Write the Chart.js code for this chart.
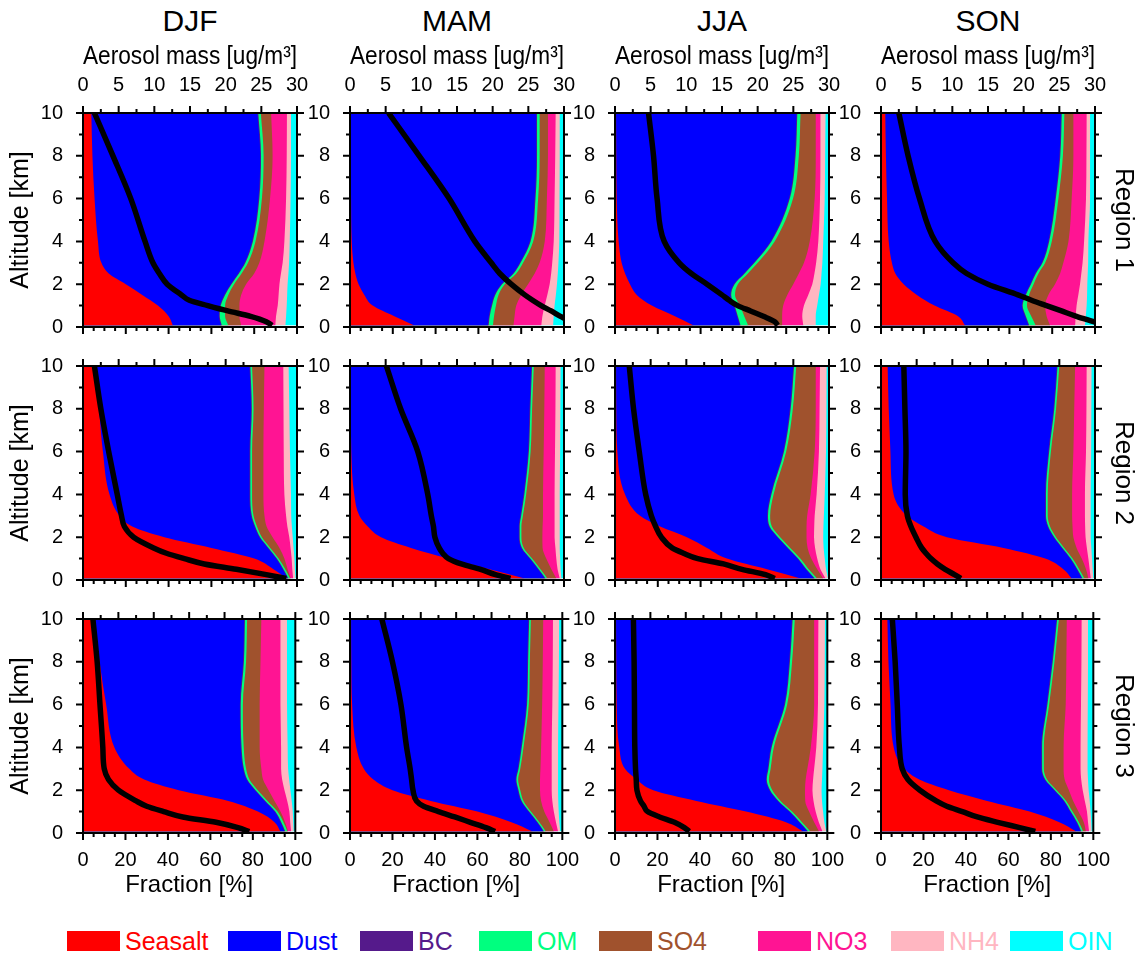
<!DOCTYPE html>
<html>
<head>
<meta charset="utf-8">
<script src="https://cdn.jsdelivr.net/npm/chart.js@4.4.1/dist/chart.umd.min.js"></script>
<style>
  body { margin: 0; background: #fff; }
  #page { position: relative; width: 1145px; height: 959px; overflow: hidden;
          font-family: 'Liberation Sans', Arial, sans-serif; color: #000; }
  canvas { position: absolute; }
  .season { position: absolute; width: 160px; text-align: center; font-size: 30px; line-height: 30px; }
  .region { position: absolute; font-size: 26px; line-height: 26px; white-space: nowrap;
            transform: translate(-50%, -50%) rotate(90deg); }
  .key { position: absolute; width: 53px; height: 20px; }
  .keytext { position: absolute; font-size: 25px; line-height: 25px; white-space: nowrap; }
</style>
</head>
<body>
<div id="page"></div>
<script>
const seasons = ['DJF', 'MAM', 'JJA', 'SON'];
const regions = ['Region 1', 'Region 2', 'Region 3'];
const species = ['Seasalt', 'Dust', 'BC', 'OM', 'SO4', 'NO3', 'NH4', 'OIN'];
const speciesColors = ['#ff0000', '#0000ff', '#551a8b', '#00ff7f', '#a0522d', '#ff1493', '#ffb6c1', '#00ffff'];

// levels [km]: composition profiles and total mass profiles
const altitude = [0.07, 0.5, 1, 1.5, 2, 2.5, 3, 4, 6, 8, 10];
const massAltitude = [0.07, 0.25, 0.5, 0.75, 1, 1.25, 1.5, 2, 2.5, 3, 4, 6, 8, 10];

const altitudeTicks = [0, 2, 4, 6, 8, 10];
const fractionTicks = [0, 20, 40, 60, 80, 100];
const massTicks = [0, 5, 10, 15, 20, 25, 30];

// mass fraction [%] per species; one row per panel:
// Region 1 DJF, MAM, JJA, SON, Region 2 DJF ... SON, Region 3 DJF ... SON
const seasalt = [
  [42, 40, 35, 27.7, 20, 12, 8.6, 7, 5.4, 4.4, 3.9],
  [30, 20.7, 10.6, 6.7, 4, 2.5, 1.6, 0.8, 0.5, 0.4, 0.3],
  [36.7, 28, 17.2, 10.2, 7, 4.7, 3.1, 1.7, 0.8, 0.6, 0.5],
  [39.3, 36, 25, 16.8, 10.6, 6.7, 5.1, 3.6, 2.8, 2.3, 2],
  [95, 89, 80, 60, 38, 23, 17.1, 12.4, 9.3, 7.5, 5.9],
  [81.6, 65.2, 46, 28.5, 14.5, 8.3, 4.4, 2, 0.6, 0.4, 0.3],
  [86.7, 71, 52.3, 43, 33.6, 21.1, 11.7, 4.7, 1.1, 0.6, 0.5],
  [89.1, 85.2, 76.7, 57.2, 30.8, 19.9, 12.1, 5.9, 4.4, 3.6, 3.1],
  [93, 90.2, 82.4, 68.4, 45.1, 28.8, 21.8, 14.8, 10.9, 7.8, 5.4],
  [86, 76, 60, 38, 20, 11, 6.5, 3, 1, 0.6, 0.5],
  [88.6, 80.5, 61.7, 38.3, 18, 10.2, 4.7, 2, 0.8, 0.6, 0.5],
  [92, 84, 70, 50, 32, 18, 11, 6, 4.5, 3.5, 3]
];
const dust = [
  [22.5, 23.5, 29, 38.3, 49, 60.5, 66.9, 72, 76.6, 78.4, 77.6],
  [34.4, 44.2, 55.4, 60.8, 66.7, 73.6, 77.7, 83.2, 85.8, 86.6, 86.7],
  [21.6, 29, 38.3, 43.7, 48.5, 55.5, 61.7, 71, 80.5, 83.4, 84.3],
  [29.6, 31.3, 40.8, 50.5, 59.1, 65.3, 70, 74.6, 78.5, 81.1, 82.1],
  [0.6, 4.3, 10.2, 26.3, 44.4, 57.1, 61.4, 65.4, 68.5, 71, 71.9],
  [9.4, 22.6, 37.9, 51.5, 64.4, 70.6, 75.2, 79.1, 82.6, 83.5, 84.4],
  [6.3, 18.1, 32.9, 37.5, 42.2, 50.8, 59.4, 68, 77.5, 81.1, 82.8],
  [4.7, 6.2, 11.6, 27.2, 49.8, 57.9, 64.6, 70.8, 73.8, 77, 79],
  [1.9, 2.8, 7.8, 17.1, 35.8, 48.2, 53.6, 59.5, 63, 67.6, 70.5],
  [5, 12, 24, 42.5, 59, 67, 72.5, 77.5, 82, 82.9, 83.5],
  [2, 6.2, 20.3, 38.3, 54.7, 60.9, 67.2, 71.4, 78.9, 81.4, 82.8],
  [2, 8, 19, 36, 49.5, 59, 64.5, 69.5, 73.5, 77, 79.6]
];
const bc = [
  [0.4, 0.4, 0.4, 0.4, 0.4, 0.4, 0.4, 0.4, 0.4, 0.4, 0.4],
  [0.4, 0.4, 0.4, 0.4, 0.4, 0.4, 0.4, 0.4, 0.4, 0.4, 0.4],
  [0.4, 0.4, 0.4, 0.4, 0.4, 0.4, 0.4, 0.4, 0.4, 0.4, 0.4],
  [0.4, 0.4, 0.4, 0.4, 0.4, 0.4, 0.4, 0.4, 0.4, 0.4, 0.4],
  [0.4, 0.4, 0.4, 0.4, 0.4, 0.4, 0.4, 0.4, 0.4, 0.4, 0.4],
  [0.4, 0.4, 0.4, 0.4, 0.4, 0.4, 0.4, 0.4, 0.4, 0.4, 0.4],
  [0.4, 0.4, 0.4, 0.4, 0.4, 0.4, 0.4, 0.4, 0.4, 0.4, 0.4],
  [0.4, 0.4, 0.4, 0.4, 0.4, 0.4, 0.4, 0.4, 0.4, 0.4, 0.4],
  [0.4, 0.4, 0.4, 0.4, 0.4, 0.4, 0.4, 0.4, 0.4, 0.4, 0.4],
  [0.4, 0.4, 0.4, 0.4, 0.4, 0.4, 0.4, 0.4, 0.4, 0.4, 0.4],
  [0.4, 0.4, 0.4, 0.4, 0.4, 0.4, 0.4, 0.4, 0.4, 0.4, 0.4],
  [0.4, 0.4, 0.4, 0.4, 0.4, 0.4, 0.4, 0.4, 0.4, 0.4, 0.4]
];
const om = [
  [3, 2.5, 2, 1.5, 1.2, 1.2, 1.2, 1.2, 1.2, 1.2, 1.2],
  [2, 2, 1.8, 1.5, 1.2, 1.2, 1.2, 1.2, 1.2, 1.2, 1.2],
  [3.5, 3, 2.5, 1.8, 1.5, 1.5, 1.5, 1.5, 1.5, 1.5, 1.5],
  [3, 2.5, 2, 1.5, 1.2, 1.2, 1.2, 1.2, 1.2, 1.2, 1.2],
  [0.8, 0.8, 0.8, 0.8, 0.8, 0.8, 0.8, 0.8, 0.8, 0.8, 0.8],
  [0.8, 0.8, 0.8, 0.8, 0.8, 0.8, 0.8, 0.8, 0.8, 0.8, 0.8],
  [1, 1, 1, 1, 1, 1, 1, 1, 1, 1, 1],
  [0.8, 0.8, 0.8, 0.8, 0.8, 0.8, 0.8, 0.8, 0.8, 0.8, 0.8],
  [1, 1, 1, 1, 1, 1, 1, 1, 1, 1, 1],
  [0.8, 0.8, 0.8, 0.8, 0.8, 0.8, 0.8, 0.8, 0.8, 0.8, 0.8],
  [1, 1, 1, 1, 1, 1, 1, 1, 1, 1, 1],
  [0.8, 0.8, 0.8, 0.8, 0.8, 0.8, 0.8, 0.8, 0.8, 0.8, 0.8]
];
const so4 = [
  [6, 6.7, 6.7, 6, 5.6, 5.9, 5.3, 4.2, 3.8, 4.2, 4.8],
  [9.6, 9.6, 9.5, 10.6, 10.9, 8.6, 7.7, 5.4, 4.1, 3.9, 3.9],
  [15.9, 17.7, 20.2, 24.4, 25.9, 23.8, 21.6, 16.4, 10.1, 7.9, 7.1],
  [6.7, 7.2, 8.5, 9, 10, 10.1, 8.5, 7.8, 6.2, 4.9, 4.2],
  [0.3, 1.1, 2.7, 4.3, 5, 4.5, 5.1, 5.3, 5.3, 4.8, 5.8],
  [4.2, 5.1, 6.6, 8.8, 9.8, 9.9, 9.4, 7.9, 6.1, 5.7, 5.1],
  [2.9, 4, 5.1, 8.1, 12.3, 16.2, 17.3, 17.3, 13.3, 10.7, 9.1],
  [1.9, 3.2, 4.3, 5.8, 8.1, 10.5, 11.4, 11.4, 10.5, 8.5, 7.4],
  [0.3, 0.8, 1.4, 3.3, 5.1, 6.4, 7.2, 7.5, 7.9, 6.8, 6.7],
  [3.8, 4.8, 6.3, 8.3, 9.3, 10.3, 9.5, 8.3, 6.3, 6.1, 5.8],
  [4.1, 5.7, 8, 11.6, 15.4, 17.3, 17.3, 17.4, 12.7, 10.4, 9.1],
  [1.3, 2.3, 2.8, 3.3, 5.8, 8.3, 9.3, 9.3, 7.8, 5.6, 3.7]
];
const no3 = [
  [16, 17.1, 17.9, 17.5, 15.6, 12.5, 10.9, 9.3, 7.5, 6.6, 7.4],
  [13, 13, 13.3, 12.2, 10.1, 7.7, 5.9, 4.2, 3.6, 3.4, 3.6],
  [9.9, 9.4, 9.7, 9.8, 8.9, 7.3, 5.7, 4, 2.5, 2.2, 2.2],
  [11.7, 13.6, 14.7, 14, 11.7, 9.9, 9, 7.3, 6.7, 6.1, 6.2],
  [1.1, 2.2, 3.4, 5.2, 7.8, 9.7, 10.1, 9.8, 9.5, 9.2, 8.8],
  [1.6, 2.9, 4.7, 6, 5.7, 5.6, 5.4, 5.4, 5.3, 5.2, 5.1],
  [1.1, 1.5, 2.8, 3.5, 3.5, 3.6, 3.5, 2.8, 2, 1.8, 2],
  [1.1, 1.7, 3.1, 4.8, 5.7, 5.9, 6, 6, 5.9, 5.7, 5.4],
  [1.4, 2.4, 4.2, 6, 7.5, 9, 9.3, 10.1, 9.8, 9.4, 9],
  [2, 3, 4.5, 5.3, 5.5, 5.5, 5.3, 5, 4.8, 4.7, 4.6],
  [1.6, 2.2, 3.1, 3.9, 3.5, 3.5, 3.2, 2.6, 1.8, 1.9, 2],
  [1.5, 2, 4, 5.5, 6.5, 7.8, 8, 8, 7.2, 7.1, 7]
];
const nh4 = [
  [4.7, 4.7, 4.2, 4, 3.8, 3.5, 3, 2.5, 2.1, 2, 1.9],
  [5.5, 5.3, 4.6, 4, 3.4, 3.1, 2.9, 2.6, 2.3, 2.1, 1.9],
  [5.8, 6.3, 6.2, 5, 3.9, 3.3, 2.9, 2.3, 2.2, 2.2, 2.4],
  [4.6, 4.7, 4.7, 4.1, 3.4, 3, 2.6, 2, 1.9, 1.7, 1.6],
  [1.1, 1.2, 1.3, 1.4, 1.6, 2.1, 2.4, 3.1, 2.9, 2.7, 2.5],
  [0.8, 1.4, 1.8, 2, 2.4, 2.4, 2.4, 2.4, 2.4, 2.3, 2.3],
  [1.1, 2.6, 3.5, 4, 4.3, 4.3, 4.3, 3.8, 3.3, 3.2, 3.1],
  [1.2, 1.4, 1.7, 2.1, 2.4, 2.6, 2.7, 2.7, 2.4, 2.3, 2.3],
  [1.2, 1.4, 1.6, 2.1, 2.8, 3.3, 3.3, 3.1, 3.1, 3.1, 3.1],
  [1, 1.6, 2.3, 2.8, 3, 3, 3, 3, 2.9, 2.9, 2.9],
  [1.8, 2.6, 3.5, 4, 4.3, 4.2, 3.9, 3.2, 3, 3.1, 3.1],
  [1.2, 1.5, 1.7, 2.3, 2.8, 3.2, 3.3, 3.3, 3.2, 3.1, 3]
];
const oin = [
  [5.4, 5.1, 4.8, 4.6, 4.4, 4, 3.7, 3.4, 3, 2.8, 2.8],
  [5.1, 4.8, 4.4, 3.8, 3.3, 2.9, 2.6, 2.2, 2.1, 2, 2],
  [6.2, 6.2, 5.5, 4.7, 3.9, 3.5, 3.1, 2.7, 2, 1.8, 1.6],
  [4.7, 4.3, 3.9, 3.7, 3.6, 3.4, 3.2, 3.1, 2.3, 2.3, 2.3],
  [0.7, 1, 1.2, 1.6, 2, 2.4, 2.7, 2.8, 3.3, 3.6, 3.9],
  [1.2, 1.6, 1.8, 2, 2, 2, 2, 2, 1.8, 1.7, 1.6],
  [0.5, 1.4, 2, 2.5, 2.7, 2.6, 2.4, 2, 1.4, 1.2, 1.1],
  [0.8, 1.1, 1.4, 1.7, 2, 2, 2, 2, 1.8, 1.7, 1.6],
  [0.8, 1, 1.2, 1.7, 2.3, 2.9, 3.4, 3.6, 3.9, 3.9, 3.9],
  [1, 1.4, 1.7, 1.9, 2, 2, 2, 2, 1.8, 1.6, 1.5],
  [0.5, 1.4, 2, 2.5, 2.7, 2.5, 2.3, 2, 1.4, 1.2, 1.1],
  [0.8, 1, 1.3, 1.7, 2.2, 2.5, 2.7, 2.7, 2.6, 2.5, 2.5]
];

// total aerosol mass [ug/m3] on massAltitude, same panel order
const mass = [
  [26.5, 25.7, 23.5, 20.3, 17.5, 14.9, 13.8, 11.8, 10.7, 9.8, 8.7, 6.7, 4.2, 1.6],
  [32.5, 31, 29.5, 28.2, 26.8, 25.6, 24.5, 22.6, 21, 19.8, 17.5, 13.9, 9.7, 5.4],
  [22.8, 22.4, 20.8, 19, 17.2, 16, 15, 12.9, 10.7, 9, 6.9, 5.9, 5.4, 4.7],
  [31.5, 29.8, 27.4, 25.3, 23.2, 21.1, 19.2, 15, 12, 10.1, 7.6, 5.4, 3.8, 2.5],
  [28.5, 25.7, 21.5, 17, 14.2, 11.7, 9.9, 7.1, 5.8, 5.4, 4.8, 3.6, 2.5, 1.6],
  [22.5, 20.4, 18.3, 15.6, 13.8, 13, 12.5, 11.9, 11.7, 11.4, 10.9, 9.5, 7.1, 5.1],
  [22.4, 21.1, 17.8, 15.2, 11.6, 9.6, 8, 6.5, 5.7, 5.1, 4.3, 3.4, 2.6, 2],
  [11.2, 10.3, 9, 7.9, 7, 6.3, 5.7, 4.9, 4.2, 3.7, 3.4, 3.5, 3.35, 3.2],
  [23.5, 21.9, 18.8, 14.1, 11.4, 9, 7.5, 5, 3.6, 3, 2.8, 2.4, 2, 1.4],
  [20.5, 19.2, 17, 14.8, 12.5, 10.4, 9.4, 8.9, 8.7, 8.5, 8, 7.2, 6, 4.5],
  [10.5, 9.8, 8.4, 6.3, 4.6, 4.1, 3.6, 3.1, 3, 2.9, 2.8, 2.75, 2.7, 2.6],
  [21.8, 19.6, 16.5, 13.6, 11.5, 9.3, 7.8, 5.5, 3.8, 3, 2.6, 2.3, 2, 1.6]
];

const layers = [seasalt, dust, bc, om, so4, no3, nh4, oin];

// page layout
const plotLeft = [83, 350, 615, 881];
const plotTop = [113, 366, 619];
const plotSize = 214;
const padL = 80, padT = 75, padB = 70, padR = 30;
const legendBoxX = [67, 228, 360, 479, 599, 758, 891, 1010];

const page = document.getElementById('page');

Chart.defaults.font.family = "'Liberation Sans', Arial, sans-serif";
Chart.defaults.color = '#000';

// frame with outward major/minor ticks on all four sides
const panelFrame = {
  id: 'panelFrame',
  afterDatasetsDraw(chart) {
    const { ctx, chartArea: a, scales } = chart;
    ctx.save();
    ctx.strokeStyle = '#000';
    ctx.lineWidth = 2;
    ctx.strokeRect(a.left, a.top, a.right - a.left, a.bottom - a.top);
    ctx.beginPath();
    for (let v = 0; v <= 10; v += 1) {
      const y = scales.y.getPixelForValue(v);
      const len = v % 2 ? 4 : 7;
      ctx.moveTo(a.left - len, y); ctx.lineTo(a.left, y);
      ctx.moveTo(a.right, y); ctx.lineTo(a.right + len, y);
    }
    for (let v = 0; v <= 100; v += 5) {
      const x = scales.x.getPixelForValue(v);
      ctx.moveTo(x, a.bottom); ctx.lineTo(x, a.bottom + (v % 20 ? 4 : 7));
    }
    for (let v = 0; v <= 30; v += 2.5) {
      const x = scales.x2.getPixelForValue(v);
      ctx.moveTo(x, a.top); ctx.lineTo(x, a.top - (v % 5 ? 4 : 7));
    }
    ctx.stroke();
    ctx.restore();
  }
};

function tickList(values) {
  return s => { s.ticks = values.map(v => ({ value: v })); };
}

function makePanel(row, col) {
  const p = row * 4 + col;
  const canvas = document.createElement('canvas');
  canvas.width = padL + plotSize + padR;
  canvas.height = padT + plotSize + padB;
  canvas.style.left = (plotLeft[col] - padL) + 'px';
  canvas.style.top = (plotTop[row] - padT) + 'px';
  page.appendChild(canvas);

  // cumulative fractions, each layer filled from 0 and painted under the previous one
  const datasets = [];
  let total = altitude.map(() => 0);
  layers.forEach((layer, k) => {
    total = total.map((t, i) => t + layer[p][i]);
    datasets.push({
      label: species[k],
      data: altitude.map((z, i) => ({ x: total[i], y: z })),
      xAxisID: 'x',
      backgroundColor: speciesColors[k],
      borderWidth: 0,
      pointRadius: 0,
      fill: 'origin',
      cubicInterpolationMode: 'monotone',
      order: k + 1,
      clip: 0
    });
  });
  datasets.push({
    label: 'Aerosol mass',
    data: massAltitude.map((z, i) => ({ x: mass[p][i], y: z })),
    xAxisID: 'x2',
    borderColor: '#000',
    borderWidth: 5.5,
    pointRadius: 0,
    fill: false,
    cubicInterpolationMode: 'monotone',
    order: 0,
    clip: 0
  });

  new Chart(canvas, {
    type: 'line',
    data: { datasets },
    options: {
      indexAxis: 'y',
      responsive: false,
      animation: false,
      devicePixelRatio: 1,
      layout: { padding: { left: 0, top: 0, bottom: 0, right: padR } },
      plugins: { legend: { display: false }, tooltip: { enabled: false } },
      scales: {
        x: {
          type: 'linear', position: 'bottom', min: 0, max: 100,
          grid: { display: false, drawTicks: false }, border: { display: false },
          afterBuildTicks: tickList(fractionTicks),
          ticks: { display: row === 2, padding: 15, font: { size: 20 }, autoSkip: false, maxRotation: 0, minRotation: 0 },
          title: { display: row === 2, text: 'Fraction [%]', font: { size: 24 }, padding: { top: 0, bottom: 3 } },
          afterFit: s => { s.height = padB; }
        },
        x2: {
          type: 'linear', position: 'top', min: 0, max: 30,
          grid: { display: false, drawTicks: false }, border: { display: false },
          afterBuildTicks: tickList(massTicks),
          ticks: { display: row === 0, padding: 16, font: { size: 20 }, autoSkip: false, maxRotation: 0, minRotation: 0 },
          title: { display: row === 0, text: 'Aerosol mass [ug/m³]', font: { size: 25 }, padding: { top: 4, bottom: 0 } },
          afterFit: s => { s.height = padT; }
        },
        y: {
          type: 'linear', position: 'left', min: 0, max: 10,
          grid: { display: false, drawTicks: false }, border: { display: false },
          afterBuildTicks: tickList(altitudeTicks),
          ticks: { padding: 20, font: { size: 20 }, autoSkip: false },
          title: { display: col === 0, text: 'Altitude [km]', font: { size: 25 }, padding: { top: 3, bottom: 0 } },
          afterFit: s => { s.width = padL; }
        }
      }
    },
    plugins: [panelFrame]
  });
}

for (let r = 0; r < regions.length; r++) {
  for (let c = 0; c < seasons.length; c++) makePanel(r, c);
}

seasons.forEach((name, c) => {
  const el = document.createElement('div');
  el.className = 'season';
  el.textContent = name;
  el.style.left = (plotLeft[c] + plotSize / 2 - 80) + 'px';
  el.style.top = '6px';
  page.appendChild(el);
});

regions.forEach((name, r) => {
  const el = document.createElement('div');
  el.className = 'region';
  el.textContent = name;
  el.style.left = '1125px';
  el.style.top = (plotTop[r] + plotSize / 2) + 'px';
  page.appendChild(el);
});

species.forEach((name, k) => {
  const box = document.createElement('div');
  box.className = 'key';
  box.style.background = speciesColors[k];
  box.style.left = legendBoxX[k] + 'px';
  box.style.top = '931px';
  page.appendChild(box);
  const txt = document.createElement('div');
  txt.className = 'keytext';
  txt.textContent = name;
  txt.style.color = speciesColors[k];
  txt.style.left = (legendBoxX[k] + 58) + 'px';
  txt.style.top = '929px';
  page.appendChild(txt);
});
</script>
</body>
</html>
